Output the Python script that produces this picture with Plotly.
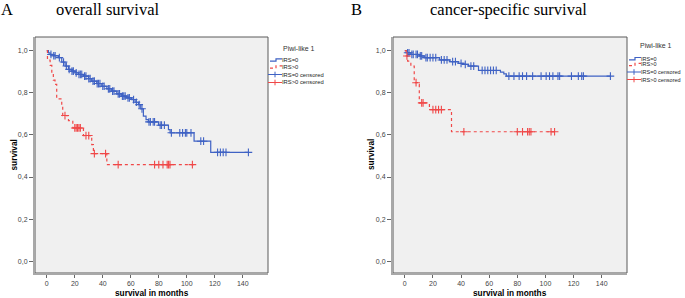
import plotly.graph_objects as go

W, H = 685, 298

# ---------------- data ----------------
# Panel A: overall survival
a_irs0_t = [0, 1.2, 2.4, 4.8, 8.3, 10.7, 13.1, 15.5, 17.9, 20.2, 22.6, 26.2, 29.8, 32.1, 35.7,
            39.3, 42.9, 46.4, 50, 53.6, 57.1, 60.7, 63.1, 65.5, 67.1, 69, 70.9, 72.6, 79.8,
            86.9, 88.1, 105.2, 117.1, 144]
a_irs0_s = [1.0, 0.99, 0.982, 0.976, 0.967, 0.946, 0.927, 0.911, 0.903, 0.895, 0.887, 0.879,
            0.867, 0.855, 0.844, 0.831, 0.819, 0.808, 0.795, 0.784, 0.776, 0.768, 0.755, 0.744,
            0.724, 0.689, 0.673, 0.662, 0.646, 0.625, 0.61, 0.57, 0.517, 0.517]
a_irs0_cens = [3, 5, 6, 9, 12, 14, 16, 18, 19, 21, 23, 24, 25, 27, 28, 30, 31, 33, 34, 36, 37,
               38, 40, 41, 44, 45, 47, 48, 51, 52, 54, 55, 56, 58, 59, 62, 64, 66, 68, 73, 74,
               76, 77, 81, 82, 84, 89, 95, 97, 99, 100, 103, 110, 112, 122, 124, 126, 128, 144]

a_irs1_t = [0, 0.5, 2.4, 3.6, 4.7, 5.9, 7.1, 10.7, 11.4, 15.5, 18.6, 26.2, 32.1, 33.3, 42.9, 106]
a_irs1_s = [1.0, 0.955, 0.93, 0.895, 0.86, 0.84, 0.771, 0.736, 0.692, 0.668, 0.633, 0.597,
            0.554, 0.511, 0.459, 0.459]
a_irs1_cens = [13, 20, 21, 22, 23, 24, 28, 30, 34, 42, 51, 77, 80, 83, 86, 87, 88, 104]

# Panel B: cancer-specific survival
b_irs0_t = [0, 1.9, 4.3, 10.3, 13.9, 24.7, 32, 38, 41.6, 45.2, 52.4, 68, 70.4, 72.2, 146.2]
b_irs0_s = [1.0, 0.99, 0.982, 0.975, 0.967, 0.956, 0.948, 0.94, 0.935, 0.927, 0.906, 0.898,
            0.89, 0.879, 0.879]
b_irs0_cens = [2, 3, 5, 6, 8, 9, 11, 12, 15, 16, 18, 20, 22, 26, 28, 30, 34, 36, 40, 43, 47, 49,
               55, 57, 59, 61, 63, 65, 74, 77.6, 81.3, 83.7, 86.6, 90.9, 96.9, 100.5, 102.9,
               105.3, 108.9, 110.1, 118.5, 123.4, 125.8, 127, 146.2]

b_irs1_t = [0, 1, 2, 4.3, 6.7, 9, 10.3, 17.5, 33.2, 106.5]
b_irs1_s = [1.0, 0.975, 0.95, 0.927, 0.848, 0.84, 0.752, 0.72, 0.615, 0.615]
b_irs1_cens = [1.5, 8, 12, 13, 20, 22, 24, 26, 42, 80, 83.7, 87.3, 88.5, 89.7, 104, 106.5]

x_ticks = [0, 20, 40, 60, 80, 100, 120, 140]
y_ticks = [0.0, 0.2, 0.4, 0.6, 0.8, 1.0]
y_tick_labels = ["0,0", "0,2", "0,4", "0,6", "0,8", "1,0"]

legend_title = "Piwi-like 1"
legend_labels = ["IRS=0", "IRS>0", "IRS=0 censored", "IRS>0 censored"]

BLUE = "#3f62c4"
RED = "#f04848"


def surv_at(times, surv, t):
    val = surv[0]
    for ti, si in zip(times, surv):
        if ti <= t:
            val = si
    return val


def px(x):
    return x / W


def py(y):
    return 1 - y / H


fig = go.Figure()


def add_panel(xa, ya, t0, s0, c0, t1, s1, c1):
    fig.add_trace(go.Scatter(x=t0, y=s0, mode="lines", line=dict(color=BLUE, width=1.2, shape="hv"),
                             xaxis=xa, yaxis=ya, showlegend=False, hoverinfo="skip"))
    fig.add_trace(go.Scatter(x=t1, y=s1, mode="lines",
                             line=dict(color=RED, width=1.2, shape="hv", dash="dot"),
                             xaxis=xa, yaxis=ya, showlegend=False, hoverinfo="skip"))
    fig.add_trace(go.Scatter(x=c0, y=[surv_at(t0, s0, t) for t in c0], mode="markers",
                             marker=dict(symbol="cross-thin", size=5.5, line=dict(color=BLUE, width=1.1)),
                             xaxis=xa, yaxis=ya, showlegend=False, hoverinfo="skip"))
    fig.add_trace(go.Scatter(x=c1, y=[surv_at(t1, s1, t) for t in c1], mode="markers",
                             marker=dict(symbol="cross-thin", size=5.5, line=dict(color=RED, width=1.1)),
                             xaxis=xa, yaxis=ya, showlegend=False, hoverinfo="skip"))


add_panel("x", "y", a_irs0_t, a_irs0_s, a_irs0_cens, a_irs1_t, a_irs1_s, a_irs1_cens)
add_panel("x2", "y2", b_irs0_t, b_irs0_s, b_irs0_cens, b_irs1_t, b_irs1_s, b_irs1_cens)

ydom = [py(273), py(37)]
axfont = dict(family="Liberation Sans, Arial", size=7, color="#444")
common_x = dict(range=[-8.4, 158], tickvals=x_ticks, ticks="outside", ticklen=3, tickcolor="#666",
                tickfont=axfont, showgrid=False, zeroline=False, showline=True,
                linecolor="#a8a8a8", linewidth=2, fixedrange=True)
common_y = dict(range=[-0.056, 1.065], tickvals=y_ticks, ticktext=y_tick_labels, ticks="outside",
                ticklen=4, tickcolor="#666", tickfont=axfont, showgrid=False, zeroline=False,
                showline=True, linecolor="#a8a8a8", linewidth=2, domain=ydom, fixedrange=True)

fig.update_layout(
    width=W, height=H, margin=dict(l=0, r=0, t=0, b=0),
    paper_bgcolor="white", plot_bgcolor="#f0f0f0", showlegend=False,
    xaxis=dict(domain=[px(35), px(268)], anchor="y", **common_x),
    yaxis=dict(anchor="x", **common_y),
    xaxis2=dict(domain=[px(393), px(627)], anchor="y2", **common_x),
    yaxis2=dict(anchor="x2", **common_y),
)

shapes = []
for xr, yr in (("x domain", "y domain"), ("x2 domain", "y2 domain")):
    shapes.append(dict(type="rect", xref=xr, yref=yr, x0=0, x1=1, y0=0, y1=1,
                       line=dict(color="#5a5a5a", width=1), layer="below"))

annotations = []
tfont = dict(family="Liberation Serif, Times New Roman", size=16.5, color="black")
annotations += [
    dict(text="A", x=px(1), y=1, xanchor="left", yanchor="top", font=tfont, borderpad=0, borderwidth=0),
    dict(text="overall survival", x=px(56), y=1, xanchor="left", yanchor="top", font=tfont, borderpad=0, borderwidth=0),
    dict(text="B", x=px(351), y=1, xanchor="left", yanchor="top", font=tfont, borderpad=0, borderwidth=0),
    dict(text="cancer-specific survival", x=px(430), y=1, xanchor="left", yanchor="top", font=tfont, borderpad=0, borderwidth=0),
]
lfont = dict(family="Liberation Sans, Arial", size=8.3, color="black")
annotations += [
    dict(text="<b>survival in months</b>", x=px(151.5), y=py(293), xanchor="center", yanchor="middle", font=lfont),
    dict(text="<b>survival in months</b>", x=px(510), y=py(293), xanchor="center", yanchor="middle", font=lfont),
    dict(text="<b>survival</b>", x=px(13.5), y=py(155), textangle=-90, xanchor="center", yanchor="middle", font=lfont),
    dict(text="<b>survival</b>", x=px(371), y=py(155), textangle=-90, xanchor="center", yanchor="middle", font=lfont),
]


def legend(x_icon, title_cx, title_y, rows, esize):
    gfont = dict(family="Liberation Sans, Arial", size=7, color="#333")
    efont = dict(family="Liberation Sans, Arial", size=esize, color="#222")
    annotations.append(dict(text=legend_title, x=px(title_cx), y=py(title_y), xanchor="center",
                            yanchor="middle", font=gfont))
    x0, x1 = x_icon, x_icon + 12
    xm = (x0 + x1) / 2
    for i, (lab, ry) in enumerate(zip(legend_labels, rows)):
        annotations.append(dict(text=lab, x=px(x1 + 0.3), y=py(ry), xanchor="left", yanchor="middle",
                                font=efont, showarrow=False, borderpad=0, borderwidth=0))
        col = BLUE if i % 2 == 0 else RED
        if i < 2:
            path = "M {} {} L {} {} L {} {} L {} {}".format(px(x0), py(ry + 1.2), px(xm), py(ry + 1.2),
                                                          px(xm), py(ry - 1.2), px(x1), py(ry - 1.2))
            shapes.append(dict(type="path", xref="paper", yref="paper", path=path,
                               line=dict(color=col, width=1.2, dash="solid" if i == 0 else "dot")))
        else:
            shapes.append(dict(type="line", xref="paper", yref="paper", x0=px(x0 - 2), x1=px(x1),
                               y0=py(ry), y1=py(ry), line=dict(color=col, width=1)))
            shapes.append(dict(type="line", xref="paper", yref="paper", x0=px(xm - 1), x1=px(xm - 1),
                               y0=py(ry - 2.8), y1=py(ry + 2.8), line=dict(color=col, width=1)))


legend(270, 299, 48, [60, 67, 74.5, 82.5], 5.8)
legend(629, 656, 45, [58.7, 64.5, 72, 79.5], 5.5)

for a in annotations:
    a.setdefault("showarrow", False)
    a.setdefault("xref", "paper")
    a.setdefault("yref", "paper")

fig.update_layout(shapes=shapes, annotations=annotations)
fig.write_html("out.html", config={"displayModeBar": False},
               post_script="document.body.style.margin='0';document.body.style.overflow='hidden';")
